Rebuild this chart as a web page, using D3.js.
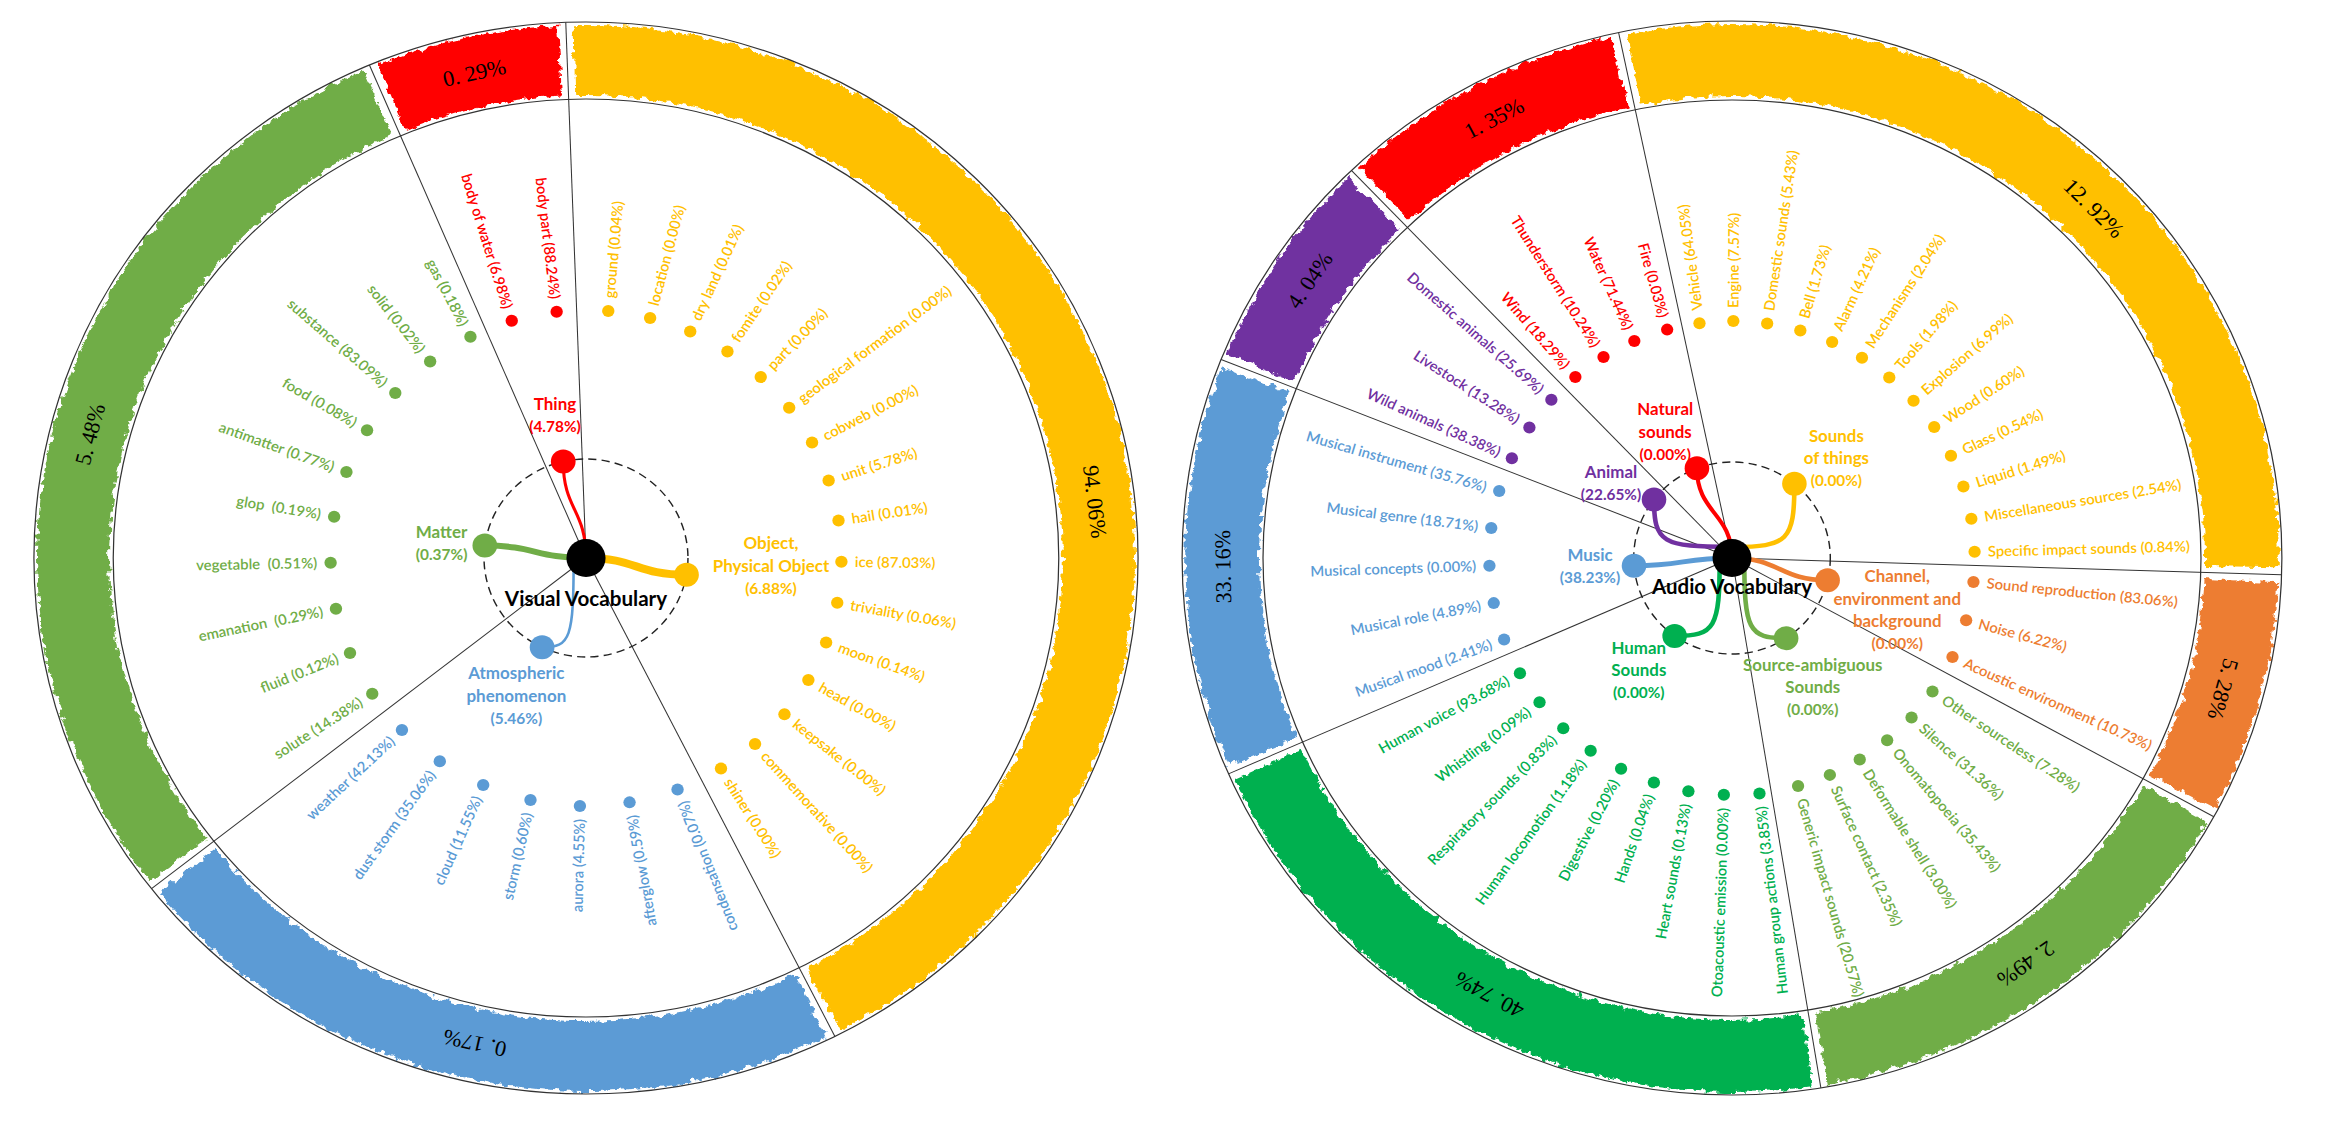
<!DOCTYPE html>
<html>
<head>
<meta charset="utf-8">
<script src="https://cdn.jsdelivr.net/npm/d3@7"></script>
<style>
  html, body { margin: 0; padding: 0; background: #fff; }
  svg { display: block; }
</style>
</head>
<body>
<div id="chart"></div>
<script>
//==================
// Data: visual vocabulary (clockwise from the yellow segment)
var visualCategories = ["Object,\nPhysical Object", "Atmospheric\nphenomenon", "Matter", "Thing"];
var visualShare = [6.88, 5.46, 0.37, 4.78];
var visualRing = [94.06, 0.17, 5.48, 0.29];
var visualLeafNames = [
  ["ground", "location", "dry land", "fomite", "part", "geological formation", "cobweb", "unit",
   "hail", "ice", "triviality", "moon", "head", "keepsake", "commemorative", "shiner"],
  ["condensation", "afterglow", "aurora", "storm", "cloud", "dust storm", "weather"],
  ["solute", "fluid", "emanation\u00a0", "vegetable\u00a0", "glop\u00a0", "antimatter", "food", "substance", "solid", "gas"],
  ["body of water", "body part"]
];
var visualLeafValues = [
  [0.04, 0.00, 0.01, 0.02, 0.00, 0.00, 0.00, 5.78, 0.01, 87.03, 0.06, 0.14, 0.00, 0.00, 0.00, 0.00],
  [0.07, 0.59, 4.55, 0.60, 11.55, 35.06, 42.13],
  [14.38, 0.12, 0.29, 0.51, 0.19, 0.77, 0.08, 83.09, 0.02, 0.18],
  [6.98, 88.24]
];

// Data: audio vocabulary (clockwise from the yellow segment)
var audioCategories = ["Sounds\nof things", "Channel,\nenvironment and\nbackground", "Source-ambiguous\nSounds",
  "Human\nSounds", "Music", "Animal", "Natural\nsounds"];
var audioShare = [0.00, 0.00, 0.00, 0.00, 38.23, 22.65, 0.00];
var audioRing = [12.92, 5.28, 2.49, 40.74, 33.16, 4.04, 1.35];
var audioLeafNames = [
  ["Vehicle", "Engine", "Domestic sounds", "Bell", "Alarm", "Mechanisms", "Tools", "Explosion",
   "Wood", "Glass", "Liquid", "Miscellaneous sources", "Specific impact sounds"],
  ["Sound reproduction", "Noise", "Acoustic environment"],
  ["Other sourceless", "Silence", "Onomatopoeia", "Deformable shell", "Surface contact", "Generic impact sounds"],
  ["Human group actions", "Otoacoustic emission", "Heart sounds", "Hands", "Digestive",
   "Human locomotion", "Respiratory sounds", "Whistling", "Human voice"],
  ["Musical mood", "Musical role", "Musical concepts", "Musical genre", "Musical instrument"],
  ["Wild animals", "Livestock", "Domestic animals"],
  ["Wind", "Thunderstorm", "Water", "Fire"]
];
var audioLeafValues = [
  [64.05, 7.57, 5.43, 1.73, 4.21, 2.04, 1.98, 6.99, 0.60, 0.54, 1.49, 2.54, 0.84],
  [83.06, 6.22, 10.73],
  [7.28, 31.36, 35.43, 3.00, 2.35, 20.57],
  [3.85, 0.00, 0.13, 0.04, 0.20, 1.18, 0.83, 0.09, 93.68],
  [2.41, 4.89, 0.00, 18.71, 35.76],
  [38.38, 13.28, 25.69],
  [18.29, 10.24, 71.44, 0.03]
];

//==================
// Layout (angles in degrees, clockwise from 12 o'clock)
var W = 2344, H = 1136;

var wheels = [
  {
    title: "Visual Vocabulary", cats: visualCategories, share: visualShare, ring: visualRing,
    leaves: visualLeafNames, leafVals: visualLeafValues,
    colors: ["#FFC000", "#5B9BD5", "#70AD47", "#FF0000"],
    cx: 586, cy: 558, sx: 1.03, R: 536, r: 459, nodeR: 99, leafR: 248, titleDy: 41,
    bounds: [-2.1, 153.2, 231.9, 336.9, 357.9],
    ringLabelAt: [83.5, null, null, null],
    nodeAngle: [99.7, 205.5, 277.2, 347.1],
    leafSpan: [[5, 148.1], [159, 226.1], [236.8, 333.1], [343.1, 353.4]],
    link: ["sh", "v", "sh", "sv"],
    linkW: [8, 2.5, 6, 3],
    labelOff: [[82, -31], [-25, 26], [-42, -13], [-8, -57]]
  },
  {
    title: "Audio Vocabulary", cats: audioCategories, share: audioShare, ring: audioRing,
    leaves: audioLeafNames, leafVals: audioLeafValues,
    colors: ["#FFC000", "#ED7D31", "#70AD47", "#00B050", "#5B9BD5", "#7030A0", "#FF0000"],
    cx: 1732, cy: 558, sx: 1.024, R: 537, r: 458, nodeR: 96, leafR: 237, titleDy: 29.5,
    bounds: [-11.9, 91.8, 118.8, 170.7, 246.3, 291.7, 316.2, 348.1],
    ringLabelAt: [45.3, null, null, null, null, null, null],
    nodeAngle: [39.4, 103.4, 146.6, 215.7, 265.4, 307.5, 339.1],
    leafSpan: [[-7.7, 88.5], [95.8, 114.7], [124.3, 164.2], [173.5, 240.9], [249.9, 286.4], [294.9, 311.9], [319.8, 344.5]],
    link: ["h", "sh", "v", "v", "sh", "h", "sv"],
    linkW: [4.5, 4.5, 4.5, 4.5, 5, 4.5, 4],
    labelOff: [[41, -48], [68, -4], [26, 27], [-35, 12], [-43, -10], [-42, -27], [-31, -59]]
  }
];

var svg = d3.select("#chart")
  .append("svg")
  .attr("width", W)
  .attr("height", H)
  .style("font-family", "Lato, 'Open Sans', sans-serif");

// rough brush-like edge for the outer bands
var filt = svg.append("defs").append("filter")
  .attr("id", "rough")
  .attr("x", "-5%").attr("y", "-5%").attr("width", "110%").attr("height", "110%");
filt.append("feTurbulence")
  .attr("type", "fractalNoise")
  .attr("baseFrequency", 0.13)
  .attr("numOctaves", 3)
  .attr("seed", 5)
  .attr("result", "noise");
filt.append("feDisplacementMap")
  .attr("in", "SourceGraphic")
  .attr("in2", "noise")
  .attr("scale", 9)
  .attr("xChannelSelector", "R")
  .attr("yChannelSelector", "G");

wheels.forEach(drawWheel);

function rad(d) { return d * Math.PI / 180; }

function connector(p, type) {
  var x = p[0], y = p[1], x0 = 0, y0 = 0, c1, c2;
  if (type === "sh") {
    c1 = [x / 2, 0]; c2 = [x / 2, y];
  } else if (type === "sv") {
    c1 = [0, y / 2]; c2 = [x, y / 2];
  } else if (type === "h") {
    y0 = Math.sign(y) * 11;
    c1 = [x * 0.9, y0]; c2 = [x, y0 + (y - y0) * 0.1];
  } else {
    x0 = Math.sign(x) * 12;
    c1 = [x0, y * 0.9]; c2 = [x0 + (x - x0) * 0.1, y];
  }
  return "M" + x0 + "," + y0 + "C" + c1 + " " + c2 + " " + x + "," + y;
}

function drawWheel(c) {
  var g = svg.append("g")
    .attr("transform", "translate(" + c.cx + "," + c.cy + ") scale(" + c.sx + ",1)");
  var n = c.cats.length;
  var segs = d3.range(n).map(function(i) {
    return { i: i, a0: c.bounds[i], a1: c.bounds[i + 1] };
  });

  // outer coloured bands
  var band = d3.arc()
    .innerRadius(c.r + 4)
    .outerRadius(c.R - 3)
    .startAngle(function(d) { return rad(d.a0 + 0.8); })
    .endAngle(function(d) { return rad(d.a1 - 0.8); });
  g.append("g")
    .attr("filter", "url(#rough)")
    .selectAll("path")
    .data(segs)
    .enter()
    .append("path")
    .attr("d", band)
    .attr("fill", function(d) { return c.colors[d.i]; });

  // ring outlines
  [c.R, c.r].forEach(function(rr) {
    g.append("circle")
      .attr("r", rr)
      .attr("fill", "none")
      .attr("stroke", "#333")
      .attr("stroke-width", 1.2);
  });

  // divider lines
  g.selectAll("line.div")
    .data(c.bounds.slice(0, n))
    .enter()
    .append("line")
    .attr("class", "div")
    .attr("x1", 0).attr("y1", 0)
    .attr("x2", function(d) { return d3.pointRadial(rad(d), c.R)[0]; })
    .attr("y2", function(d) { return d3.pointRadial(rad(d), c.R)[1]; })
    .attr("stroke", "#333")
    .attr("stroke-width", 1);

  // ring percentage labels
  g.selectAll("text.ring")
    .data(segs)
    .enter()
    .append("text")
    .attr("class", "ring")
    .attr("transform", function(d) {
      var a = c.ringLabelAt[d.i] != null ? c.ringLabelAt[d.i] : (d.a0 + d.a1) / 2;
      var p = d3.pointRadial(rad(a), (c.R + c.r) / 2);
      return "translate(" + p + ") rotate(" + a + ")";
    })
    .attr("text-anchor", "middle")
    .attr("dy", "0.35em")
    .style("font-family", "'Liberation Serif', 'DejaVu Serif', serif")
    .style("font-size", "22px")
    .attr("fill", "#000")
    .text(function(d) { return c.ring[d.i].toFixed(2).replace(".", ". ") + "%"; });

  // dashed inner circle
  g.append("circle")
    .attr("r", c.nodeR)
    .attr("fill", "none")
    .attr("stroke", "#222")
    .attr("stroke-width", 1.4)
    .attr("stroke-dasharray", "8,5");

  var nodes = d3.range(n).map(function(i) {
    return { i: i, p: d3.pointRadial(rad(c.nodeAngle[i]), c.nodeR) };
  });

  // connectors
  g.selectAll("path.link")
    .data(nodes)
    .enter()
    .append("path")
    .attr("class", "link")
    .attr("d", function(d) { return connector(d.p, c.link[d.i]); })
    .attr("fill", "none")
    .attr("stroke", function(d) { return c.colors[d.i]; })
    .attr("stroke-width", function(d) { return c.linkW[d.i]; })
    .attr("stroke-linecap", "round");

  g.append("circle").attr("r", 19).attr("fill", "#000");

  g.selectAll("circle.node")
    .data(nodes)
    .enter()
    .append("circle")
    .attr("class", "node")
    .attr("cx", function(d) { return d.p[0]; })
    .attr("cy", function(d) { return d.p[1]; })
    .attr("r", 12)
    .attr("fill", function(d) { return c.colors[d.i]; });

  // leaves
  var leaves = [];
  c.leaves.forEach(function(names, i) {
    var pos = d3.scaleLinear().domain([0, names.length - 1]).range(c.leafSpan[i]);
    var outward = (c.leafSpan[i][0] + c.leafSpan[i][1]) / 2 < 180;
    names.forEach(function(name, j) {
      leaves.push({ i: i, name: name, v: c.leafVals[i][j], a: pos(j), outward: outward });
    });
  });

  g.selectAll("circle.leaf")
    .data(leaves)
    .enter()
    .append("circle")
    .attr("class", "leaf")
    .attr("cx", function(d) { return d3.pointRadial(rad(d.a), c.leafR)[0]; })
    .attr("cy", function(d) { return d3.pointRadial(rad(d.a), c.leafR)[1]; })
    .attr("r", 6)
    .attr("fill", function(d) { return c.colors[d.i]; });

  g.selectAll("text.leaf")
    .data(leaves)
    .enter()
    .append("text")
    .attr("class", "leaf")
    .attr("transform", function(d) {
      var p = d3.pointRadial(rad(d.a), c.leafR + 13);
      return "translate(" + p + ") rotate(" + (d.outward ? d.a - 90 : d.a + 90) + ")";
    })
    .attr("text-anchor", function(d) { return d.outward ? "start" : "end"; })
    .attr("dy", "0.35em")
    .style("font-size", "14.5px")
    .style("font-weight", 600)
    .attr("fill", function(d) { return c.colors[d.i]; })
    .text(function(d) { return d.name + " (" + d.v.toFixed(2) + "%)"; });

  // category labels
  nodes.forEach(function(d) {
    var lines = c.cats[d.i].split("\n").concat(["(" + c.share[d.i].toFixed(2) + "%)"]);
    var lx = d.p[0] + c.labelOff[d.i][0], ly = d.p[1] + c.labelOff[d.i][1];
    var t = g.append("text")
      .attr("text-anchor", "middle")
      .style("font-weight", 700)
      .attr("fill", c.colors[d.i]);
    lines.forEach(function(s, k) {
      t.append("tspan")
        .attr("x", lx)
        .attr("y", ly + k * 22.5)
        .attr("dy", "0.35em")
        .style("font-size", k === lines.length - 1 ? "15px" : "16.5px")
        .text(s);
    });
  });

  g.append("text")
    .attr("x", 0)
    .attr("y", c.titleDy)
    .attr("dy", "0.35em")
    .attr("text-anchor", "middle")
    .style("font-size", "20px")
    .style("font-weight", 700)
    .attr("fill", "#000")
    .text(c.title);
}
</script>
</body>
</html>
